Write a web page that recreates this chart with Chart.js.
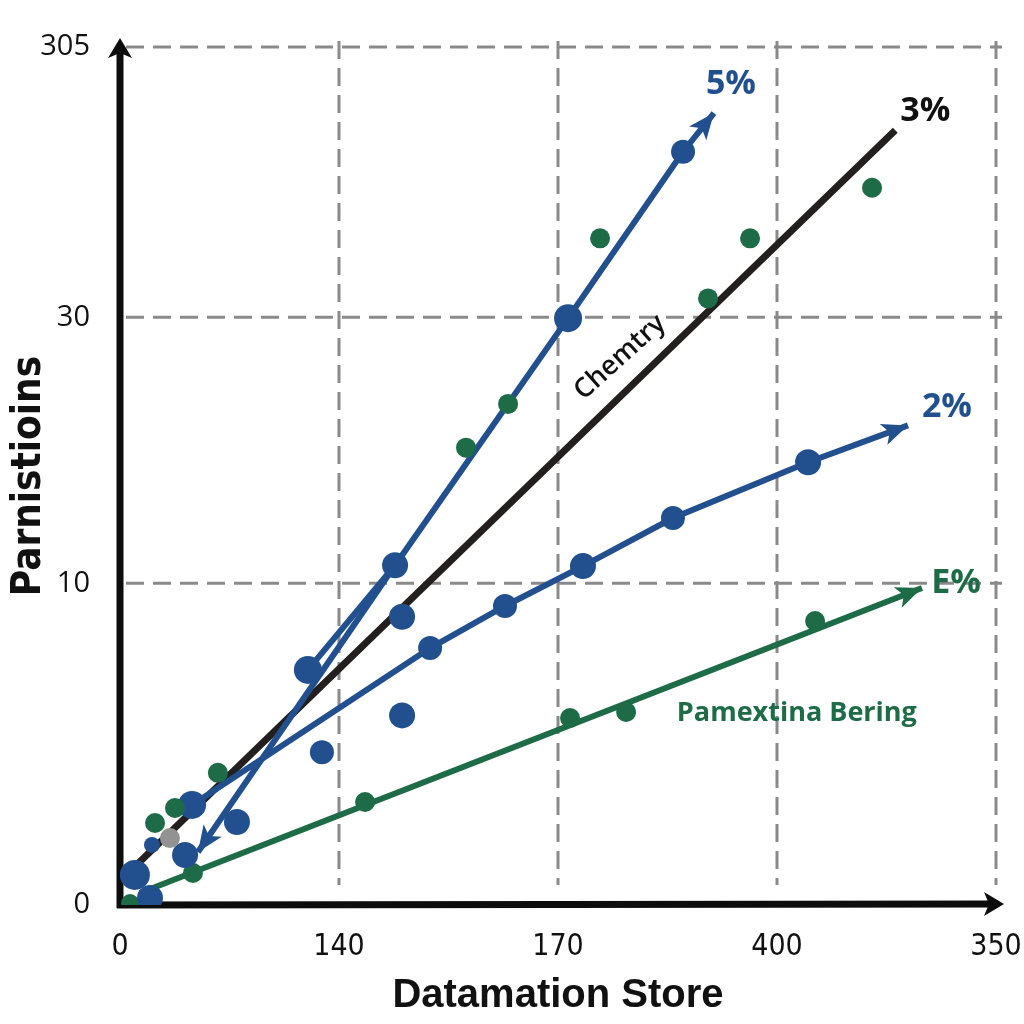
<!DOCTYPE html>
<html><head><meta charset="utf-8">
<script src="https://cdn.jsdelivr.net/npm/chart.js@4.4.1/dist/chart.umd.min.js"></script>
<style>html,body{margin:0;padding:0;background:#fff}#wrap{width:1024px;height:1024px}</style>
</head><body><div id="wrap"><canvas id="c" width="1024" height="1024"></canvas></div>
<script>
// ---- axis ticks / titles ----
const xTickValues = [0, 1, 2, 3, 4];
const xTickLabels = ["0", "140", "170", "400", "350"];
const yTickValues = [0, 37.5, 68.5, 100];
const yTickLabels = ["0", "10", "30", "305"];
const xTitle = "Datamation Store";
const yTitle = "Parnistioins";

// ---- series values ----
const line5X = [0.356, 1.256, 2.046, 2.571, 2.712];
const line5Y = [6.18, 39.6, 68.4, 87.8, 92.3];
const branch5X = [0.858, 1.256];
const branch5Y = [27.4, 39.6];
const line3X = [0.04, 3.54];
const line3Y = [3.8, 90.3];
const line2X = [0.329, 1.416, 1.758, 2.114, 2.525, 3.142, 3.598];
const line2Y = [11.66, 29.95, 34.85, 39.5, 45.1, 51.6, 55.9];
const line1X = [0.091, 3.662];
const line1Y = [1.4, 36.95];
const greenOnLineX = [0.046, 0.333, 1.119, 2.055, 2.311, 3.174];
const greenOnLineY = [0.23, 3.73, 12.0, 21.8, 22.5, 33.1];
const greenScatterX = [2.192, 2.877, 2.685, 3.434, 1.772, 1.580, 0.447, 0.251, 0.160];
const greenScatterY = [77.7, 77.7, 70.7, 83.6, 58.4, 53.3, 15.4, 11.3, 9.56];
const blueScatterX = [1.288, 1.288, 0.922, 0.534, 0.297, 0.137, 0.068, 0.146];
const blueScatterY = [33.6, 22.1, 17.8, 9.67, 5.83, 0.82, 3.5, 7.0];
const grayX = [0.228];
const grayY = [7.8];

const seriesLabels = { s5: "5%", s3: "3%", s2: "2%", s1: "E%" };
const lineCaption3 = "Chemtry";
const lineCaption1 = "Pamextina Bering";

// ---- styles ----
const blueC = '#22508f', greenC = '#1e6b47', blackC = '#231f1f', grayC = '#929292', gridC = '#8a8a8a';

function pts(xs, ys) { return xs.map((x, i) => ({ x: x, y: ys[i] })); }

function drawHead(ctx, ax, ay, bx, by, color, len, w) {
  const ang = Math.atan2(by - ay, bx - ax);
  ctx.save();
  ctx.translate(bx, by);
  ctx.rotate(ang);
  ctx.fillStyle = color;
  ctx.beginPath();
  ctx.moveTo(0, 0);
  ctx.lineTo(-len, -w / 2);
  ctx.lineTo(-len * 0.75, 0);
  ctx.lineTo(-len, w / 2);
  ctx.closePath();
  ctx.fill();
  ctx.restore();
}

const frame = {
  id: 'frame',
  beforeDatasetsDraw(chart) {
    const ctx = chart.ctx, a = chart.chartArea;
    const xs = chart.scales.x, ys = chart.scales.y;
    ctx.save();
    ctx.strokeStyle = gridC; ctx.lineWidth = 3; ctx.setLineDash([18, 9]);
    yTickValues.slice(1).forEach(v => {
      const y = ys.getPixelForValue(v);
      ctx.beginPath(); ctx.moveTo(a.left + 6, y); ctx.lineTo(a.right + 6, y); ctx.stroke();
    });
    xTickValues.slice(1).forEach(v => {
      const x = xs.getPixelForValue(v);
      ctx.beginPath(); ctx.moveTo(x, a.top - 6); ctx.lineTo(x, a.bottom - 20); ctx.stroke();
    });
    ctx.setLineDash([]);
    // axes
    ctx.strokeStyle = '#0d0d0d'; ctx.lineWidth = 7; ctx.lineCap = 'butt';
    ctx.beginPath(); ctx.moveTo(a.left, a.bottom + 3); ctx.lineTo(a.left, a.top - 2); ctx.stroke();
    ctx.beginPath(); ctx.moveTo(a.left - 3, a.bottom); ctx.lineTo(a.right + 2, a.bottom - 1); ctx.stroke();
    drawHead(ctx, a.left, a.bottom, a.left, a.top - 9, '#0d0d0d', 20, 24);
    drawHead(ctx, a.left, a.bottom - 1, a.right + 8, a.bottom - 1, '#0d0d0d', 20, 24);
    ctx.restore();
  },
  afterDatasetsDraw(chart) {
    const ctx = chart.ctx;
    chart.data.datasets.forEach((ds, i) => {
      const p = chart.getDatasetMeta(i).data;
      if (ds.arrowEnd) drawHead(ctx, p[p.length - 2].x, p[p.length - 2].y, p[p.length - 1].x, p[p.length - 1].y, ds.borderColor, 26, 22);
      if (ds.arrowStart) drawHead(ctx, p[1].x, p[1].y, p[0].x, p[0].y, ds.borderColor, 26, 22);
    });
    const endOf = i => { const p = chart.getDatasetMeta(i).data; return p[p.length - 1]; };
    ctx.save();
    ctx.textAlign = 'center'; ctx.textBaseline = 'middle';
    ctx.font = 'bold 34px "Open Sans", "Liberation Sans", sans-serif';
    let e = endOf(4); ctx.fillStyle = blueC; ctx.fillText(seriesLabels.s5, e.x + 17, e.y - 29);
    e = endOf(8); ctx.fillStyle = '#111'; ctx.fillText(seriesLabels.s3, e.x + 30, e.y - 19);
    e = endOf(6); ctx.fillStyle = blueC; ctx.fillText(seriesLabels.s2, e.x + 39, e.y - 18);
    e = endOf(7); ctx.fillStyle = greenC; ctx.fillText(seriesLabels.s1, e.x + 34, e.y - 5);
    // captions
    const p3 = chart.getDatasetMeta(8).data;
    const t = 0.667;
    const cx = p3[0].x + (p3[1].x - p3[0].x) * t, cy = p3[0].y + (p3[1].y - p3[0].y) * t;
    ctx.save();
    ctx.translate(cx - 20, cy - 20);
    ctx.rotate(-42 * Math.PI / 180);
    ctx.fillStyle = '#111';
    ctx.font = '600 27px "Open Sans", "Liberation Sans", sans-serif';
    ctx.fillText(lineCaption3, 0, 0);
    ctx.restore();
    const p1 = chart.getDatasetMeta(7).data;
    const t1 = 0.84;
    const gx = p1[0].x + (p1[1].x - p1[0].x) * t1, gy = p1[0].y + (p1[1].y - p1[0].y) * t1;
    ctx.fillStyle = greenC;
    ctx.font = 'bold 27px "Open Sans", "Liberation Sans", sans-serif';
    ctx.fillText(lineCaption1, gx, gy + 77);
    ctx.restore();
  }
};

function build() {
  const datasets = [
    { data: pts(grayX, grayY), backgroundColor: grayC, borderColor: grayC, pointRadius: 10, showLine: false },
    { data: pts(blueScatterX, blueScatterY), backgroundColor: blueC, borderColor: blueC, pointRadius: [13, 13, 12, 13, 13, 13, 15, 8], showLine: false },
    { data: pts(greenScatterX, greenScatterY), backgroundColor: greenC, borderColor: greenC, pointRadius: 10, showLine: false },
    { data: pts(greenOnLineX, greenOnLineY), backgroundColor: greenC, borderColor: greenC, pointRadius: [9, 10, 10, 10, 10, 10], showLine: false },
    { data: pts(line5X, line5Y), borderColor: blueC, backgroundColor: blueC, borderWidth: 6, showLine: true, pointRadius: [0, 13, 14, 12, 0], arrowEnd: true, arrowStart: true },
    { data: pts(branch5X, branch5Y), borderColor: blueC, backgroundColor: blueC, borderWidth: 6, showLine: true, pointRadius: [14, 0] },
    { data: pts(line2X, line2Y), borderColor: blueC, backgroundColor: blueC, borderWidth: 6, showLine: true, pointRadius: [14, 12, 12, 13, 12, 13, 0], arrowEnd: true },
    { data: pts(line1X, line1Y), borderColor: greenC, backgroundColor: greenC, borderWidth: 6, showLine: true, pointRadius: 0, arrowEnd: true },
    { data: pts(line3X, line3Y), borderColor: blackC, backgroundColor: blackC, borderWidth: 7, showLine: true, pointRadius: 0 }
  ];
  datasets.forEach(d => { d.pointBorderWidth = 0; d.pointHoverRadius = d.pointRadius; });

  new Chart(document.getElementById('c'), {
    type: 'scatter',
    data: { datasets },
    options: {
      responsive: false, animation: false, devicePixelRatio: 1,
      layout: { padding: { left: 0, right: 28, top: 47, bottom: 0 } },
      plugins: { legend: { display: false }, tooltip: { enabled: false } },
      scales: {
        x: {
          type: 'linear', min: 0, max: 4, position: 'bottom',
          grid: { display: false, drawTicks: false }, border: { display: false },
          afterBuildTicks: s => { s.ticks = xTickValues.map(v => ({ value: v })); },
          afterFit: s => { s.height = 119; s.paddingLeft = 0; s.paddingRight = 0; },
          ticks: { padding: 24, color: '#111', autoSkip: false, maxRotation: 0,
            font: { family: '"Liberation Sans Narrow", "DejaVu Sans Condensed", "Liberation Sans", sans-serif', size: 30 },
            callback: (v, i) => xTickLabels[i] },
          title: { display: true, text: xTitle, color: '#111', padding: { top: 0, bottom: 4 },
            font: { family: '"Liberation Sans", Arial, sans-serif', size: 40, weight: 'bold' } }
        },
        y: {
          type: 'linear', min: 0, max: 100, position: 'left',
          grid: { display: false, drawTicks: false }, border: { display: false },
          afterBuildTicks: s => { s.ticks = yTickValues.map(v => ({ value: v })); },
          afterFit: s => { s.width = 120; s.paddingTop = 0; s.paddingBottom = 0; },
          ticks: { padding: 30, color: '#111', autoSkip: false,
            font: { family: '"Open Sans", "Liberation Sans", sans-serif', size: 29 },
            callback: (v, i) => yTickLabels[i] },
          title: { display: true, text: yTitle, color: '#111', padding: { top: 6, bottom: 0 },
            font: { family: '"Liberation Sans Narrow", "DejaVu Sans Condensed", "Liberation Sans", sans-serif', size: 40, weight: 'bold' } }
        }
      }
    },
    plugins: [frame]
  });
}
const fontLoads = [
  'bold 40px "Liberation Sans Narrow"', '30px "Liberation Sans Narrow"', 'bold 40px "Liberation Sans"',
  '29px "Open Sans"', 'bold 34px "Open Sans"', '600 27px "Open Sans"'
].map(f => document.fonts.load(f).catch(() => null));
Promise.all(fontLoads).then(build, build);
</script>
</body></html>
